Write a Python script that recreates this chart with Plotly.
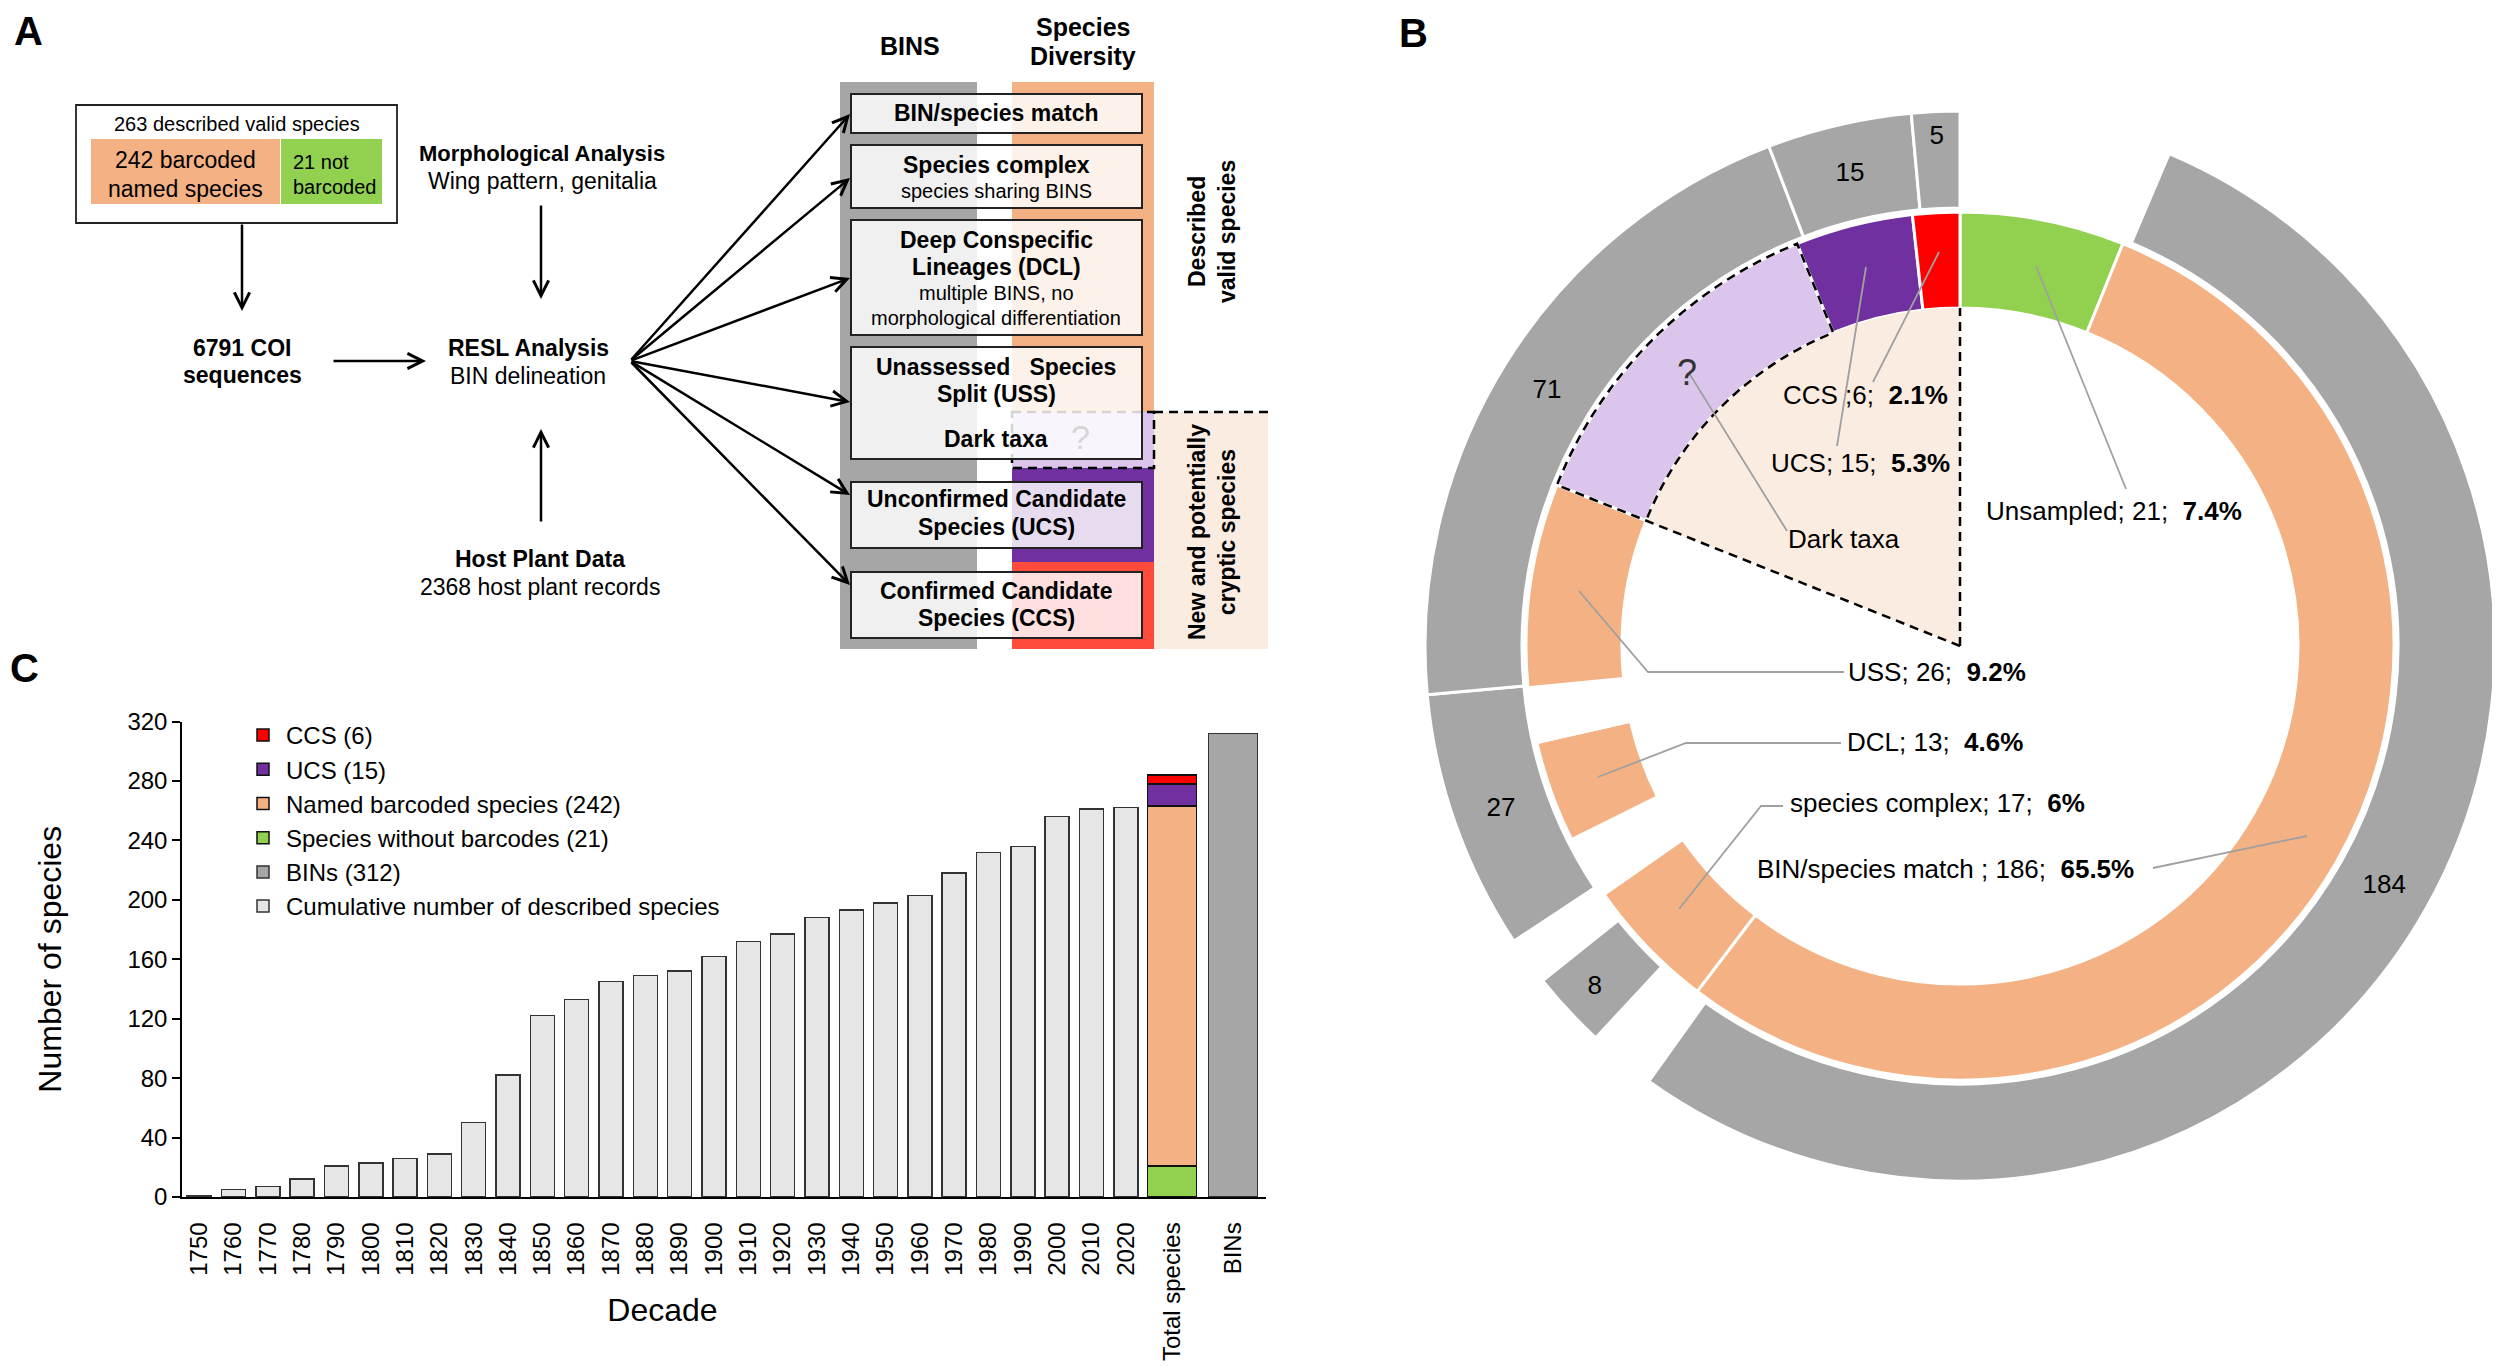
import math
import plotly.graph_objects as go

# ---------------- Panel C data ----------------
decades = ["1750", "1760", "1770", "1780", "1790", "1800", "1810", "1820", "1830", "1840",
           "1850", "1860", "1870", "1880", "1890", "1900", "1910", "1920", "1930", "1940",
           "1950", "1960", "1970", "1980", "1990", "2000", "2010", "2020"]
cumulative_species = [1, 5, 7, 12, 21, 23, 26, 29, 50, 82, 122, 133, 145, 149, 152, 162,
                      172, 177, 188, 193, 198, 203, 218, 232, 236, 256, 261, 262]
summary_categories = ["Total species", "BINs"]
without_barcodes = [21]
named_barcoded = [242]
ucs_species = [15]
ccs_species = [6]
bins_total = [312]

# ---------------- Panel B data ----------------
inner_labels = ["Unsampled", "BIN/species match", "species complex", "gap 1", "DCL",
                "gap 2", "USS", "Dark taxa", "UCS", "CCS"]
inner_values = [21, 186, 17, 8, 13, 7, 26, 44, 15, 6]
outer_labels = ["no BIN", "BIN/species match BINs", "gap 3", "species complex BINs", "gap 4",
                "DCL BINs", "USS BINs", "UCS BINs", "CCS BINs"]
outer_values = [22, 184, 7, 8, 5, 27, 71, 15, 5]

# ---------------- style ----------------
W, H = 2500, 1367
OFF = 8  # page body margin compensation
FONT = "Liberation Sans, Arial, Helvetica, sans-serif"
GREEN = "#92d050"
ORANGE = "#f4b183"
PURPLE = "#7030a0"
RED = "#ff0000"
GRAY = "#a6a6a6"
LAVENDER = "#dbc5ec"
PEACH = "#fbece1"
BAR_LIGHT = "#e6e6e6"
CLEAR = "rgba(0,0,0,0)"
LEADER = "#a0a0a0"


def px_x(px):
    return (px - OFF) / W


def px_y(py):
    return 1 - (py - OFF) / H


fig = go.Figure()

# ================= Panel C : bars =================
fig.add_trace(go.Bar(
    x=decades, y=cumulative_species, name="Cumulative number of described species",
    marker=dict(color=BAR_LIGHT, line=dict(color="#333333", width=1.5)),
    width=0.7, xaxis="x", yaxis="y", legendrank=6, hoverinfo="skip"))
stack = [
    (f"Species without barcodes ({without_barcodes[0]})", without_barcodes, GREEN, 4),
    (f"Named barcoded species ({named_barcoded[0]})", named_barcoded, ORANGE, 3),
    (f"UCS ({ucs_species[0]})", ucs_species, PURPLE, 2),
    (f"CCS ({ccs_species[0]})", ccs_species, RED, 1),
]
for name, vals, col, rank in stack:
    fig.add_trace(go.Bar(
        x=summary_categories[:1], y=vals, name=name,
        marker=dict(color=col, line=dict(color="#111111", width=1.5)),
        width=0.8, xaxis="x3", yaxis="y", legendrank=rank, hoverinfo="skip"))
fig.add_trace(go.Bar(
    x=summary_categories[1:], y=bins_total, name=f"BINs ({bins_total[0]})",
    marker=dict(color=GRAY, line=dict(color="#333333", width=1.5)),
    width=0.8, xaxis="x3", yaxis="y", legendrank=5, hoverinfo="skip"))

# ================= Panel B : double doughnut =================
CX, CY = 1960, 646
R_IN_HOLE, R_IN = 338, 434
R_OUT_HOLE, R_OUT = 438, 535

inner_color_map = {"Unsampled": GREEN, "BIN/species match": ORANGE, "species complex": ORANGE,
                   "DCL": ORANGE, "USS": ORANGE, "Dark taxa": LAVENDER, "UCS": PURPLE, "CCS": RED}
inner_colors = [inner_color_map.get(l, CLEAR) for l in inner_labels]
outer_colors = [GRAY if l.endswith("BINs") else CLEAR for l in outer_labels]
outer_text = [str(v) if l.endswith("BINs") else "" for l, v in zip(outer_labels, outer_values)]


def dom(r):
    return dict(x=[px_x(CX - r), px_x(CX + r)], y=[px_y(CY + r), px_y(CY - r)])


fig.add_trace(go.Pie(
    values=outer_values, labels=outer_labels, sort=False, direction="clockwise", rotation=0,
    hole=R_OUT_HOLE / R_OUT, domain=dom(R_OUT),
    marker=dict(colors=outer_colors, line=dict(color="white", width=3)),
    text=outer_text, textinfo="text", textposition="inside", insidetextorientation="horizontal",
    textfont=dict(size=26, color="black", family=FONT), showlegend=False, hoverinfo="skip"))
fig.add_trace(go.Pie(
    values=inner_values, labels=inner_labels, sort=False, direction="clockwise", rotation=0,
    hole=R_IN_HOLE / R_IN, domain=dom(R_IN),
    marker=dict(colors=inner_colors, line=dict(color="white", width=3)),
    textinfo="none", showlegend=False, hoverinfo="skip"))

# invisible full-figure overlay axes for drawing the diagram parts
fig.add_trace(go.Scatter(x=[], y=[], xaxis="x2", yaxis="y2", showlegend=False, hoverinfo="skip"))

shapes = []
annotations = []


def rect(x0, y0, x1, y1, fill, lc=CLEAR, lw=0, dash=None):
    ln = dict(color=lc, width=lw)
    if dash:
        ln["dash"] = dash
    shapes.append(dict(type="rect", xref="x2", yref="y2", x0=x0, y0=y0, x1=x1, y1=y1,
                       fillcolor=fill, line=ln, layer="above"))


def path(d, lc="black", lw=2, dash=None, fill=CLEAR):
    ln = dict(color=lc, width=lw)
    if dash:
        ln["dash"] = dash
    shapes.append(dict(type="path", xref="x2", yref="y2", path=d, line=ln,
                       fillcolor=fill, layer="above"))


def text(x, y, s, size, xanchor="center", color="black", angle=0):
    annotations.append(dict(xref="x2", yref="y2", x=x, y=y, text=s, showarrow=False,
                            font=dict(size=size, color=color, family=FONT),
                            xanchor=xanchor, yanchor="middle", textangle=angle))


def arrow(x0, y0, x1, y1):
    annotations.append(dict(xref="x2", yref="y2", axref="x2", ayref="y2", x=x1, y=y1,
                            ax=x0, ay=y0, text="", showarrow=True, arrowhead=5,
                            arrowsize=1.2, arrowwidth=2.5, arrowcolor="black",
                            standoff=0, startstandoff=0))


def pol(r, a):
    t = math.radians(a)
    return CX + r * math.sin(t), CY - r * math.cos(t)


def arc(r, a0, a1, n=40):
    return [pol(r, a0 + (a1 - a0) * i / n) for i in range(n + 1)]


def pts(p):
    return " ".join(f"L{x:.1f},{y:.1f}" for x, y in p)


# angles of the dark-taxa slice from the inner ring data
tot_in = sum(inner_values)
cum = 0
ang = {}
for lab, v in zip(inner_labels, inner_values):
    ang[lab] = (cum / tot_in * 360, (cum + v) / tot_in * 360)
    cum += v
a0, a1 = ang["Dark taxa"]

# peach sector
path(f"M{CX},{CY} " + pts(arc(R_IN_HOLE, a0, 360)) + " Z", lc=CLEAR, lw=0, fill=PEACH)
# dashed outlines
DASH = "9px,6px"
path(f"M{CX},{CY} " + pts([pol(R_IN, a0)]) + " " + pts(arc(R_IN, a0, a1)) + " "
     + pts(arc(R_IN_HOLE, a1, a0)), lw=2.5, dash=DASH)
path(f"M{CX},{CY} " + pts([pol(R_IN_HOLE, 360)]), lw=2.5, dash=DASH)

# leader lines
leaders = [
    [(1873, 382), (1939, 252)],
    [(1837, 446), (1866, 267)],
    [(1787, 531), (1689, 373)],
    [(2126, 489), (2036, 266)],
    [(1844, 672), (1648, 672), (1579, 591)],
    [(1841, 743), (1686, 743), (1598, 777)],
    [(1783, 806), (1761, 806), (1679, 909)],
    [(2153, 868), (2307, 836)],
]
for seg in leaders:
    d = f"M{seg[0][0]},{seg[0][1]} " + pts(seg[1:])
    path(d, lc=LEADER, lw=1.8)

n_species = sum(v for l, v in zip(inner_labels, inner_values) if l in inner_color_map and l != "Dark taxa")
val = dict(zip(inner_labels, inner_values))


def pct(lab):
    p = f"{val[lab] / n_species * 100:.1f}"
    if p.endswith(".0"):
        p = p[:-2]
    return f"<b>{p}%</b>"


NB = "\u00a0"
text(1950, 395, f"CCS ;{val['CCS']};{NB}{NB}" + pct("CCS"), 26, xanchor="right")
text(1952, 463, f"UCS; {val['UCS']};{NB}{NB}" + pct("UCS"), 26, xanchor="right")
text(1786, 539, "Dark taxa", 26, xanchor="left")
text(1984, 511, f"Unsampled; {val['Unsampled']};{NB}{NB}" + pct("Unsampled"), 26, xanchor="left")
text(1846, 672, f"USS; {val['USS']};{NB}{NB}" + pct("USS"), 26, xanchor="left")
text(1845, 742, f"DCL; {val['DCL']};{NB}{NB}" + pct("DCL"), 26, xanchor="left")
text(1788, 803, f"species complex; {val['species complex']};{NB}{NB}" + pct("species complex"), 26, xanchor="left")
text(1755, 869, f"BIN/species match ; {val['BIN/species match']};{NB}{NB}" + pct("BIN/species match"), 26, xanchor="left")
text(1687, 372, "?", 36, color="#333333")

# ================= Panel A : workflow diagram =================
# coloured columns
rect(840, 82, 977, 649, GRAY)
rect(1012, 82, 1154, 412, ORANGE)
rect(1012, 412, 1154, 468, LAVENDER)
rect(1012, 468, 1154, 562, PURPLE)
rect(1012, 562, 1154, 649, "#ff4b3b")
rect(1154, 412, 1268, 649, PEACH)
rect(1012, 412, 1154, 468, CLEAR, lc="black", lw=2.5, dash=DASH)
path("M1154,412 L1268,412", lw=2.5, dash=DASH)

# boxes over the columns
BOX = "rgba(255,255,255,0.83)"
for y0, y1 in [(94, 133), (145, 208), (220, 335), (347, 459), (482, 548), (572, 638)]:
    rect(851, y0, 1142, y1, BOX, lc="#222222", lw=2)

# left box
rect(76, 105, 397, 223, "white", lc="#222222", lw=1.8)
rect(91, 139, 280, 204, ORANGE)
rect(281, 139, 382, 204, GREEN)

# arrows
arrow(242, 223, 242, 311)
arrow(332, 361, 426, 361)
arrow(541, 204, 541, 299)
arrow(541, 523, 541, 429)
for ty in [114, 178, 278, 402, 495, 585]:
    arrow(630, 361, 850, ty)

# panel letters
text(28, 31, "<b>A</b>", 40)
text(1413, 33, "<b>B</b>", 40)
text(24, 668, "<b>C</b>", 40)

text(237, 124, "263 described valid species", 20)
text(185, 160, "242 barcoded", 23)
text(185, 189, "named species", 23)
text(291, 162, "21 not", 20, xanchor="left")
text(291, 187, "barcoded", 20, xanchor="left")
text(242, 348, "<b>6791 COI</b>", 23)
text(242, 375, "<b>sequences</b>", 23)
text(542, 153, "<b>Morphological Analysis</b>", 22)
text(542, 181, "Wing pattern, genitalia", 23)
text(528, 348, "<b>RESL Analysis</b>", 23)
text(528, 376, "BIN delineation", 23)
text(540, 559, "<b>Host Plant Data</b>", 23)
text(540, 587, "2368 host plant records", 23)

text(910, 46, "<b>BINS</b>", 25)
text(1083, 27, "<b>Species</b>", 25)
text(1083, 56, "<b>Diversity</b>", 25)

text(1080, 437, "?", 34, color="#d6d6d6")
BX = 996
text(BX, 113, "<b>BIN/species match</b>", 23)
text(BX, 165, "<b>Species complex</b>", 23)
text(BX, 191, "species sharing BINS", 20)
text(BX, 240, "<b>Deep Conspecific</b>", 23)
text(BX, 267, "<b>Lineages (DCL)</b>", 23)
text(BX, 293, "multiple BINS, no", 20)
text(BX, 318, "morphological differentiation", 20)
text(BX, 367, f"<b>Unassessed{NB}{NB}{NB}Species</b>", 23)
text(BX, 394, "<b>Split (USS)</b>", 23)
text(BX, 439, "<b>Dark taxa</b>", 23)
text(BX, 499, "<b>Unconfirmed Candidate</b>", 23)
text(BX, 527, "<b>Species (UCS)</b>", 23)
text(BX, 591, "<b>Confirmed Candidate</b>", 23)
text(BX, 618, "<b>Species (CCS)</b>", 23)
text(1212, 232, "<b>Described<br>valid species</b>", 23, angle=-90)
text(1212, 532, "<b>New and potentially<br>cryptic species</b>", 23, angle=-90)

# ================= layout =================
axis_common = dict(showline=True, linecolor="black", linewidth=1.5, showgrid=False,
                   zeroline=False, automargin=False)
fig.update_layout(
    template="none",
    width=W, height=H, margin=dict(l=0, r=0, t=0, b=0, pad=0, autoexpand=False),
    paper_bgcolor="white", plot_bgcolor="rgba(0,0,0,0)", barmode="stack",
    font=dict(family=FONT, color="black"),
    showlegend=True,
    legend=dict(x=px_x(240), y=px_y(713), xanchor="left", yanchor="top", font=dict(size=24),
                bgcolor="rgba(0,0,0,0)", borderwidth=0, traceorder="normal",
                tracegroupgap=0, itemwidth=36),
    xaxis=dict(domain=[px_x(182), px_x(1143)], range=[-0.5, 27.5], type="category",
               categoryorder="array", categoryarray=decades, tickangle=-90,
               tickfont=dict(size=24), ticks="", ticklabelstandoff=14, anchor="y",
               title=dict(text="Decade", font=dict(size=32), standoff=24), **axis_common),
    xaxis3=dict(domain=[px_x(1143), px_x(1266)], range=[-0.475, 1.541], type="category",
                categoryorder="array", categoryarray=summary_categories, tickangle=-90,
                tickfont=dict(size=24), ticks="", ticklabelstandoff=14, anchor="y",
                **axis_common),
    yaxis=dict(domain=[px_y(1197), px_y(721.5)], range=[0, 320], dtick=40,
               ticks="outside", ticklen=8, tickwidth=1.5, tickcolor="black",
               tickfont=dict(size=24), anchor="x",
               title=dict(text="Number of species", font=dict(size=32), standoff=56),
               **axis_common),
    xaxis2=dict(domain=[0, 1], range=[OFF, W + OFF], visible=False, anchor="y2",
                fixedrange=True, automargin=False),
    yaxis2=dict(domain=[0, 1], range=[H + OFF, OFF], visible=False, anchor="x2",
                fixedrange=True, automargin=False),
    shapes=shapes, annotations=annotations,
)

fig.write_html("out.html")
